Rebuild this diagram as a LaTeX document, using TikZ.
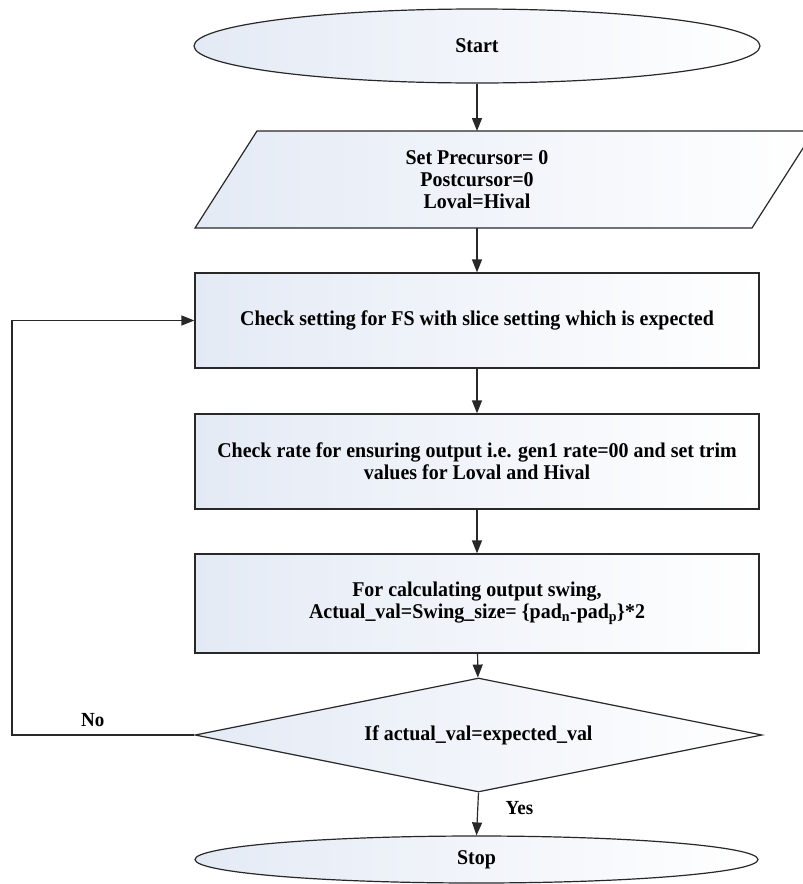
\documentclass[tikz,border=0pt]{standalone}
\usepackage{fontspec}
\setmainfont{Liberation Serif}[FakeStretch=0.95]
\usetikzlibrary{shapes.geometric,arrows.meta}
\definecolor{edge}{RGB}{40,40,40}
\definecolor{shadeL}{RGB}{228,234,245}
\begin{document}
\begin{tikzpicture}[x=1pt,y=-1pt,
  every node/.style={font=\fontsize{21}{22}\selectfont\bfseries, text=black},
  shapefill/.style={draw=edge, line width=1.2pt, left color=shadeL, right color=white},
  terminal/.style={shapefill, ellipse, minimum width=566pt, minimum height=74pt, inner sep=0pt},
  process/.style={shapefill, rectangle, minimum width=564pt, minimum height=95pt, align=center},
  decision/.style={shapefill, diamond, aspect=5, minimum width=567pt, minimum height=114pt, inner sep=0pt},
  flow/.style={draw=edge, line width=1.2pt, -{Triangle[length=13pt,width=10pt]}},
  tag/.style={font=\fontsize{20}{22}\selectfont\bfseries}
]
\useasboundingbox (0,0) rectangle (803,884);

% terminals, steps and the decision
\node[terminal] (start) at (477,46) {Start};

\begin{scope}
  \clip (0,0) rectangle (803,884);
  \path[shapefill] (195,228) -- (752,228) -- (814,131) -- (257,131) -- cycle;
\end{scope}
\node[align=center] (init) at (477,179.5) {Set Precursor= 0\\Postcursor=0\\Loval=Hival};
\coordinate (initTop) at (477,131);
\coordinate (initBot) at (477,228);

\node[process] (fs) at (477,320.5) {Check setting for FS with slice setting which is expected};
\node[process] (rate) at (477,461.5) {Check rate for ensuring output i.e. gen1 rate=00 and set trim\\values for Loval and Hival};
\node[process, minimum height=99pt] (swing) at (477,603.5) {For calculating output swing,\\Actual\_val=Swing\_size= \{pad\textsubscript{n}-pad\textsubscript{p}\}*2};
\node[decision] (cmp) at (478.5,735) {If actual\_val=expected\_val};
\node[terminal, minimum height=47pt, minimum width=563pt] (stop) at (476.5,859.5) {Stop};

% connectors
\coordinate (loop) at (12,735);
\draw[flow] (start) -- (initTop);
\draw[flow] (initBot) -- (fs);
\draw[flow] (fs) -- (rate);
\draw[flow] (rate) -- (swing);
\draw[flow] (swing) -- (cmp);
\draw[flow] (cmp.south) -- node[tag, anchor=west, pos=0.35, xshift=24pt] (yes) {Yes} (stop.north);
\draw[flow] (cmp.west) -- node[tag, above, pos=0.557, yshift=4pt] (no) {No} (loop) |- (fs.west);
\end{tikzpicture}
\end{document}
